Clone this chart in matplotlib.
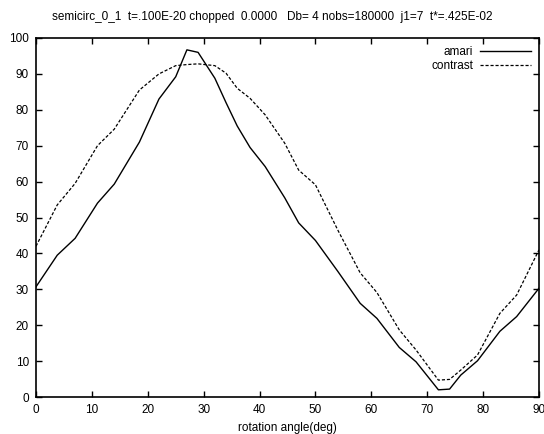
import matplotlib
matplotlib.use("Agg")
import matplotlib.pyplot as plt

plt.rcParams["font.family"] = ["Liberation Sans", "DejaVu Sans"]

# data
angle = [0, 3.8, 7, 11, 14, 18.5, 22, 25, 27, 29, 32, 34, 36, 38.3, 41,
         44.5, 47, 50, 54, 58, 61, 65, 68, 72, 74, 76, 79, 83, 86, 90]
amari = [30.7, 39.5, 44.2, 54.0, 59.3, 71.0, 83.0, 89.2, 96.7, 96.0, 88.8,
         82.0, 75.5, 69.5, 64.2, 55.5, 48.5, 43.6, 35.0, 26.1, 21.9, 13.8,
         9.8, 2.0, 2.2, 6.1, 10.1, 18.3, 22.4, 30.3]
contrast = [42.0, 53.5, 59.5, 70.0, 74.6, 85.5, 90.0, 92.3, 92.6, 92.8, 92.3,
            90.2, 86.0, 83.2, 78.6, 70.7, 63.2, 59.1, 46.5, 34.6, 29.1, 18.7,
            13.1, 4.7, 4.9, 7.5, 11.7, 23.3, 28.4, 41.0]
xticks = list(range(0, 91, 10))
yticks = list(range(0, 101, 10))
title = "semicirc_0_1  t=.100E-20 chopped  0.0000   Db= 4 nobs=180000  j1=7  t*=.425E-02"

fig = plt.figure(figsize=(5.44, 4.34), dpi=100)
ax = fig.add_axes([36 / 544, 1 - 397 / 434, (539 - 36) / 544, (397 - 38) / 434])

ax.plot(angle, amari, color="black", lw=1.0, label="amari")
ax.plot(angle, contrast, color="black", lw=0.9, ls=(0, (2.5, 1.5)), label="contrast")

ax.set_xlim(0, 90)
ax.set_ylim(0, 100)
ax.set_xticks(xticks)
ax.set_yticks(yticks)
ax.tick_params(direction="in", length=4, width=1, top=True, right=True,
               labelsize=8.5, pad=5)
for s in ax.spines.values():
    s.set_linewidth(1.2)

ax.set_xlabel("rotation angle(deg)", fontsize=8.5, labelpad=4)
fig.text(0.5, 1 - 17 / 434, title, ha="center", va="center", fontsize=8.5)

ax.legend(loc="upper right", frameon=False, markerfirst=False, fontsize=8.5,
          handlelength=4.3, borderaxespad=0.3, labelspacing=0.15, handletextpad=0.6)

fig.savefig("out.png", dpi=100)
